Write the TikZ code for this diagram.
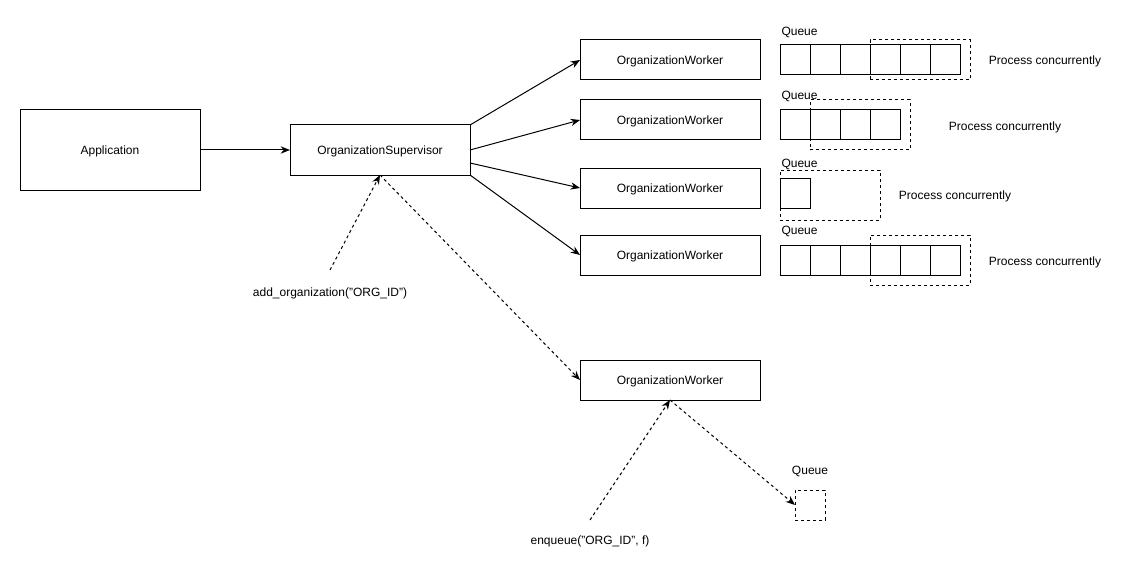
\documentclass[tikz,border=0pt]{standalone}
\usepackage{fontspec}
\setmainfont{Liberation Sans}
\usetikzlibrary{positioning, arrows.meta}

\begin{document}
\begin{tikzpicture}[
  x=0.75pt, y=-0.75pt,
  font=\fontsize{9pt}{11pt}\selectfont,
  line width=0.75pt,
  box/.style  ={draw, minimum width=135pt, minimum height=30pt, inner sep=0pt, outer sep=0pt, text height=6.5pt, text depth=0pt},
  cell/.style ={draw, minimum size=22.5pt, inner sep=0pt, outer sep=0pt},
  group/.style={draw, dash pattern=on 2.25pt off 2.25pt, inner sep=0pt, outer sep=0pt, minimum width=75pt},
  lbl/.style  ={inner sep=0pt, text height=6.5pt, text depth=0pt},
  arr/.style  ={-{Stealth[length=7pt, width=5.5pt]}},
  darr/.style ={arr, dash pattern=on 2.25pt off 2.25pt},
]
\useasboundingbox (0,0) rectangle (1141,581);

\node[box, minimum height=60pt] (app) at (110,150) {Application};
\node[box, minimum height=37.5pt] (sup) at (380,150) {OrganizationSupervisor};
\draw[arr] (app) -- (sup);

% workers
\foreach \n/\y in {w1/60, w2/120, w3/188, w4/255, w5/380}
  \node[box] (\n) at (670,\y) {OrganizationWorker};

\draw[arr] (sup.north east) -- (w1.west);
\draw[arr] (sup.east) -- (w2.west);
\draw[arr] ([yshift=-9.75pt]sup.east) -- (w3.west);
\draw[arr] (sup.south east) -- (w4.west);

% queues
\foreach \i in {1,...,6} \node[cell] (qa\i) at ({765+30*\i},60) {};
\foreach \i in {1,...,4} \node[cell] (qb\i) at ({765+30*\i},125) {};
\node[cell] (qc1) at (795,193) {};
\foreach \i in {1,...,6} \node[cell] (qd\i) at ({765+30*\i},260) {};

\node[group, minimum height=30pt]   (ga) at (920,60)  {};
\node[group, minimum height=37.5pt] (gb) at (860,125) {};
\node[group, minimum height=37.5pt] (gc) at (830,195) {};
\node[group, minimum height=37.5pt] (gd) at (920,260) {};

\node[lbl, anchor=west] (qla) at (781,31)  {Queue};
\node[lbl, anchor=west] (qlb) at (781,95)  {Queue};
\node[lbl, anchor=west] (qlc) at (781,163) {Queue};
\node[lbl, anchor=west] (qld) at (781,230) {Queue};

\node[lbl] (pa) at (1045,60)  {Process concurrently};
\node[lbl] (pb) at (1005,126) {Process concurrently};
\node[lbl] (pc) at (955,195)  {Process concurrently};
\node[lbl] (pd) at (1045,261) {Process concurrently};

% calls
\node[lbl] (addorg) at (330,292) {add\_organization("ORG\_ID")};
\coordinate (addtail) at (330,270);
\draw[darr] (addtail) -- (sup.south);
\draw[darr] (sup.south) -- (w5.west);

\node[lbl] (enq) at (590,540) {enqueue("ORG\_ID", f)};
\coordinate (enqtail) at (590,520);
\draw[darr] (enqtail) -- (w5.south);

\node[group, minimum width=22.5pt, minimum height=22.5pt] (qe) at (810,505) {};
\node[lbl] (qle) at (810,470) {Queue};
\draw[darr] (w5.south) -- (qe.west);
\end{tikzpicture}
\end{document}
